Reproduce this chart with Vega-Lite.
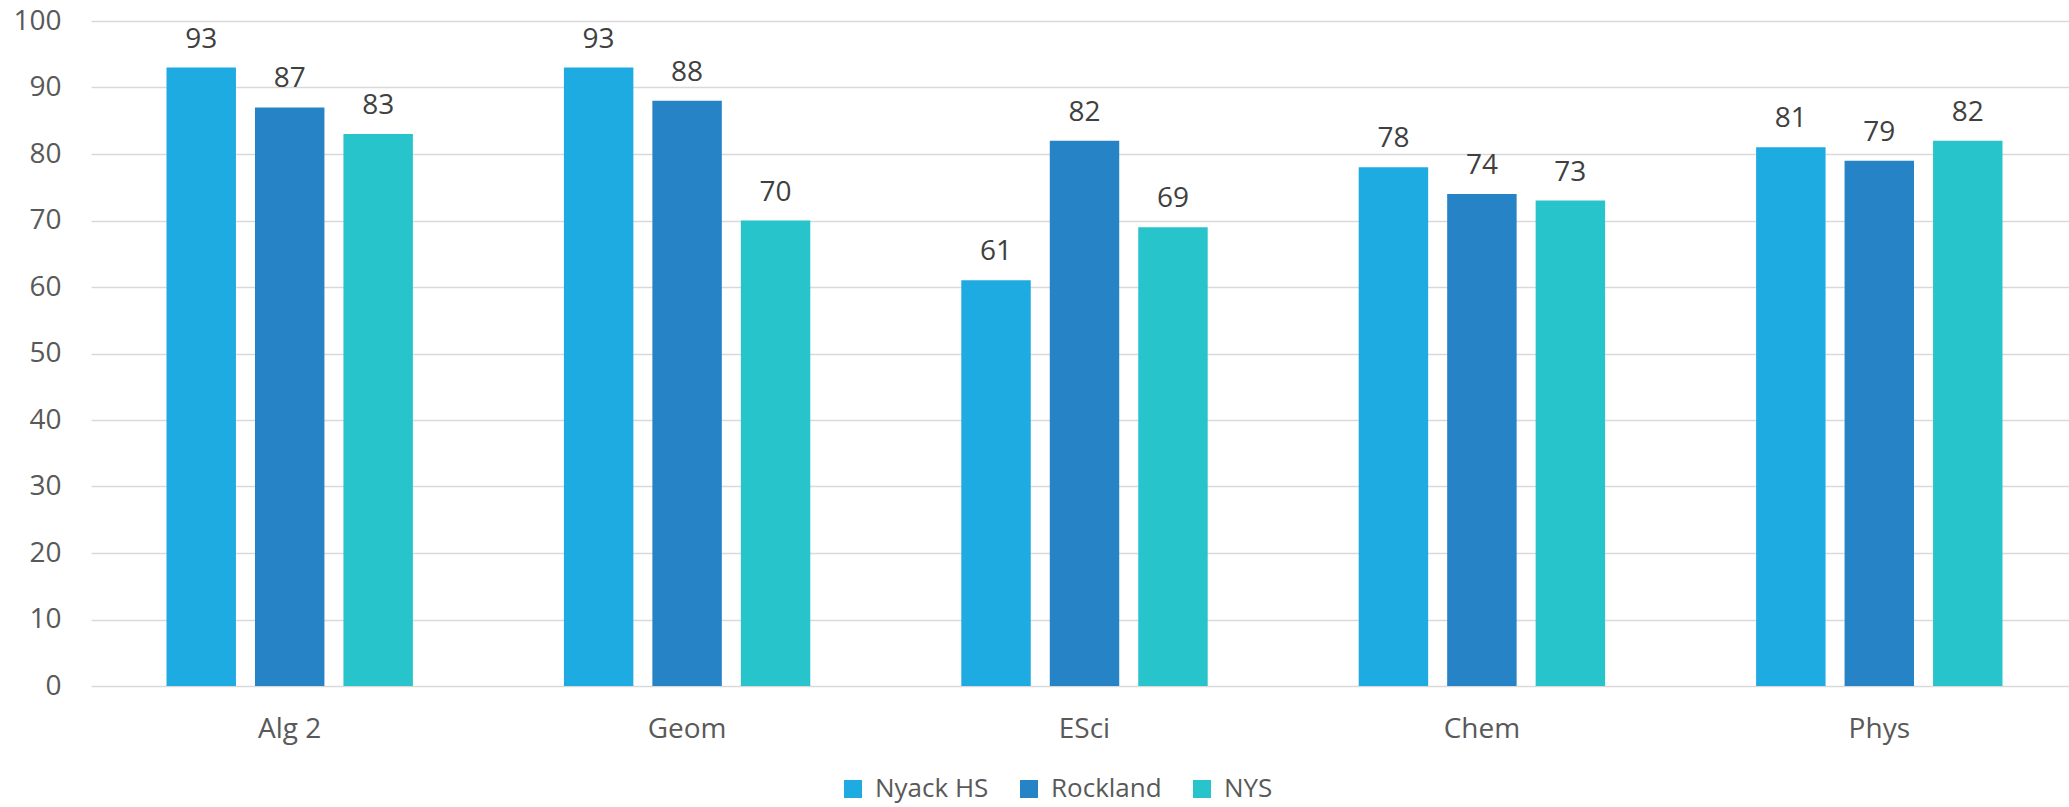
{
  "$schema": "https://vega.github.io/schema/vega-lite/v6.json",
  "autosize": {"type": "none"},
  "padding": {"left": 91, "top": 21, "right": 0, "bottom": 121},
  "width": 1978,
  "height": 665,
  "background": "white",
  "config": {
    "view": {"stroke": null},
    "font": "Open Sans"
  },
  "data": {
    "values": [
      {"subject": "Alg 2", "group": "Nyack HS", "score": 93},
      {"subject": "Alg 2", "group": "Rockland", "score": 87},
      {"subject": "Alg 2", "group": "NYS", "score": 83},
      {"subject": "Geom", "group": "Nyack HS", "score": 93},
      {"subject": "Geom", "group": "Rockland", "score": 88},
      {"subject": "Geom", "group": "NYS", "score": 70},
      {"subject": "ESci", "group": "Nyack HS", "score": 61},
      {"subject": "ESci", "group": "Rockland", "score": 82},
      {"subject": "ESci", "group": "NYS", "score": 69},
      {"subject": "Chem", "group": "Nyack HS", "score": 78},
      {"subject": "Chem", "group": "Rockland", "score": 74},
      {"subject": "Chem", "group": "NYS", "score": 73},
      {"subject": "Phys", "group": "Nyack HS", "score": 81},
      {"subject": "Phys", "group": "Rockland", "score": 79},
      {"subject": "Phys", "group": "NYS", "score": 82}
    ]
  },
  "encoding": {
    "x": {
      "field": "subject",
      "type": "nominal",
      "sort": ["Alg 2", "Geom", "ESci", "Chem", "Phys"],
      "scale": {"paddingInner": 0.38, "paddingOuter": 0.19, "range": [0, 1987]},
      "axis": {
        "title": null,
        "labelAngle": 0,
        "labelFontSize": 28,
        "labelColor": "#595959",
        "labelPadding": 29,
        "ticks": false,
        "domain": false
      }
    },
    "xOffset": {
      "field": "group",
      "type": "nominal",
      "sort": ["Nyack HS", "Rockland", "NYS"],
      "scale": {"paddingInner": 0.215, "paddingOuter": 0}
    },
    "y": {
      "field": "score",
      "type": "quantitative",
      "scale": {"domain": [0, 100], "nice": false},
      "axis": {
        "title": null,
        "values": [0, 10, 20, 30, 40, 50, 60, 70, 80, 90, 100],
        "labelFontSize": 28,
        "labelColor": "#595959",
        "labelPadding": 30,
        "ticks": false,
        "domain": false,
        "gridColor": "#d9d9d9",
        "gridWidth": 1.5
      }
    }
  },
  "layer": [
    {
      "mark": {"type": "bar"},
      "encoding": {
        "color": {
          "field": "group",
          "type": "nominal",
          "sort": ["Nyack HS", "Rockland", "NYS"],
          "scale": {
            "domain": ["Nyack HS", "Rockland", "NYS"],
            "range": ["#1eabe2", "#2683c6", "#27c4cb"]
          },
          "legend": {
            "title": null,
            "orient": "none",
            "direction": "horizontal",
            "legendX": 749,
            "legendY": 755,
            "padding": 0,
            "symbolType": "square",
            "symbolSize": 324,
            "symbolStrokeWidth": 0,
            "labelFontSize": 26,
            "labelColor": "#595959",
            "labelOffset": 9,
            "columnPadding": 27
          }
        }
      }
    },
    {
      "mark": {"type": "text", "baseline": "alphabetic", "dy": -20, "fontSize": 28, "color": "#404040"},
      "encoding": {
        "text": {"field": "score", "type": "quantitative"}
      }
    }
  ]
}
